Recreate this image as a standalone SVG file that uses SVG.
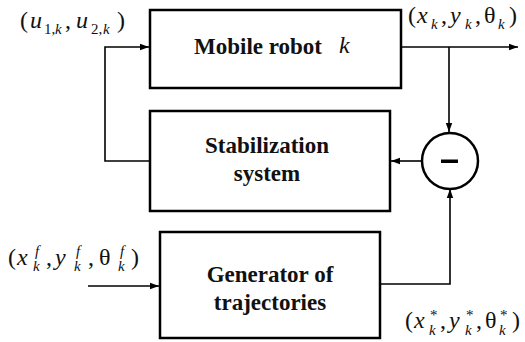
<svg xmlns="http://www.w3.org/2000/svg" width="525" height="342" viewBox="0 0 525 342">
  <style>
    .box { fill: #fff; stroke: #000; stroke-width: 2.5; }
    .wire { fill: none; stroke: #000; stroke-width: 1.6; }
    .title { font-weight: bold; font-size: 23px; text-anchor: middle; }
    .math { font-size: 24px; }
    .var { font-style: italic; }
    .sub { font-size: 15px; font-style: italic; }
    .up { font-style: normal; }
  </style>
  <defs>
    <marker id="arrow" markerWidth="10" markerHeight="8" refX="9" refY="4" orient="auto" markerUnits="userSpaceOnUse">
      <path d="M0,0.8 L9,4 L0,7.2 Z" fill="#000"/>
    </marker>
  </defs>

  <!-- connectors -->
  <g id="connectors">
    <!-- stabilization output fed back to robot input -->
    <polyline class="wire" points="150,161 105,161 105,47 149,47" marker-end="url(#arrow)"/>
    <!-- robot output to the right -->
    <line class="wire" x1="401" y1="47" x2="518" y2="47" marker-end="url(#arrow)"/>
    <!-- robot output tapped into comparator -->
    <line class="wire" x1="449" y1="47" x2="449" y2="132" marker-end="url(#arrow)"/>
    <!-- comparator to stabilization -->
    <line class="wire" x1="422" y1="161" x2="391" y2="161" marker-end="url(#arrow)"/>
    <!-- reference trajectory into comparator -->
    <polyline class="wire" points="380,284 450,284 450,189" marker-end="url(#arrow)"/>
    <!-- final pose into generator -->
    <line class="wire" x1="88" y1="286" x2="159" y2="286" marker-end="url(#arrow)"/>
  </g>

  <g font-family="Liberation Serif, Times New Roman, serif" fill="#111">
    <g id="robot">
      <rect class="box" x="150" y="10" width="251" height="78"/>
      <text class="title" x="258" y="54">Mobile robot</text>
      <text class="math var" x="339" y="53">k</text>
    </g>

    <g id="stabilization">
      <rect class="box" x="150" y="111" width="240" height="100"/>
      <text class="title" x="267" y="153">Stabilization</text>
      <text class="title" x="267" y="181">system</text>
    </g>

    <g id="comparator">
      <circle cx="450" cy="161" r="28" fill="#fff" stroke="#000" stroke-width="2.5"/>
      <rect x="441" y="159.5" width="17" height="3.5" fill="#000"/>
    </g>

    <g id="generator">
      <rect class="box" x="160" y="232" width="220" height="106"/>
      <text class="title" x="270" y="282">Generator of</text>
      <text class="title" x="270" y="310">trajectories</text>
    </g>

    <!-- control input (u1,k , u2,k) -->
    <g id="label-control">
      <text class="math" x="20" y="28">(</text>
      <text class="math var" x="30" y="28">u</text>
      <text class="sub up" x="44" y="34">1,</text>
      <text class="sub" x="55" y="34">k</text>
      <text class="math" x="65" y="28">,</text>
      <text class="math var" x="76" y="28">u</text>
      <text class="sub up" x="91" y="34">2,</text>
      <text class="sub" x="103" y="34">k</text>
      <text class="math" x="117" y="28">)</text>
    </g>

    <!-- actual pose (xk , yk , θk) -->
    <g id="label-pose">
      <text class="math" x="408" y="23">(</text>
      <text class="math var" x="417" y="23">x</text>
      <text class="sub" x="431" y="29">k</text>
      <text class="math" x="441" y="23">,</text>
      <text class="math var" x="450" y="23">y</text>
      <text class="sub" x="465" y="29">k</text>
      <text class="math" x="475" y="23">,</text>
      <text class="math" x="484" y="23">θ</text>
      <text class="sub" x="498" y="29">k</text>
      <text class="math" x="509" y="23">)</text>
    </g>

    <!-- final pose (xfk , yfk , θfk) -->
    <g id="label-final">
      <text class="math" x="8" y="265">(</text>
      <text class="math var" x="17" y="265">x</text>
      <text class="sub" x="35" y="256">f</text>
      <text class="sub" x="33" y="271">k</text>
      <text class="math" x="46" y="265">,</text>
      <text class="math var" x="55" y="265">y</text>
      <text class="sub" x="76" y="256">f</text>
      <text class="sub" x="74" y="271">k</text>
      <text class="math" x="88" y="265">,</text>
      <text class="math" x="99" y="265">θ</text>
      <text class="sub" x="120" y="256">f</text>
      <text class="sub" x="118" y="271">k</text>
      <text class="math" x="131" y="265">)</text>
    </g>

    <!-- reference pose (x*k , y*k , θ*k) -->
    <g id="label-reference">
      <text class="math" x="405" y="328">(</text>
      <text class="math var" x="414" y="328">x</text>
      <text class="sub up" x="430" y="320">*</text>
      <text class="sub" x="429" y="335">k</text>
      <text class="math" x="440" y="328">,</text>
      <text class="math var" x="449" y="328">y</text>
      <text class="sub up" x="466" y="320">*</text>
      <text class="sub" x="465" y="335">k</text>
      <text class="math" x="476" y="328">,</text>
      <text class="math" x="485" y="328">θ</text>
      <text class="sub up" x="500" y="320">*</text>
      <text class="sub" x="499" y="335">k</text>
      <text class="math" x="512" y="328">)</text>
    </g>
  </g>
</svg>
